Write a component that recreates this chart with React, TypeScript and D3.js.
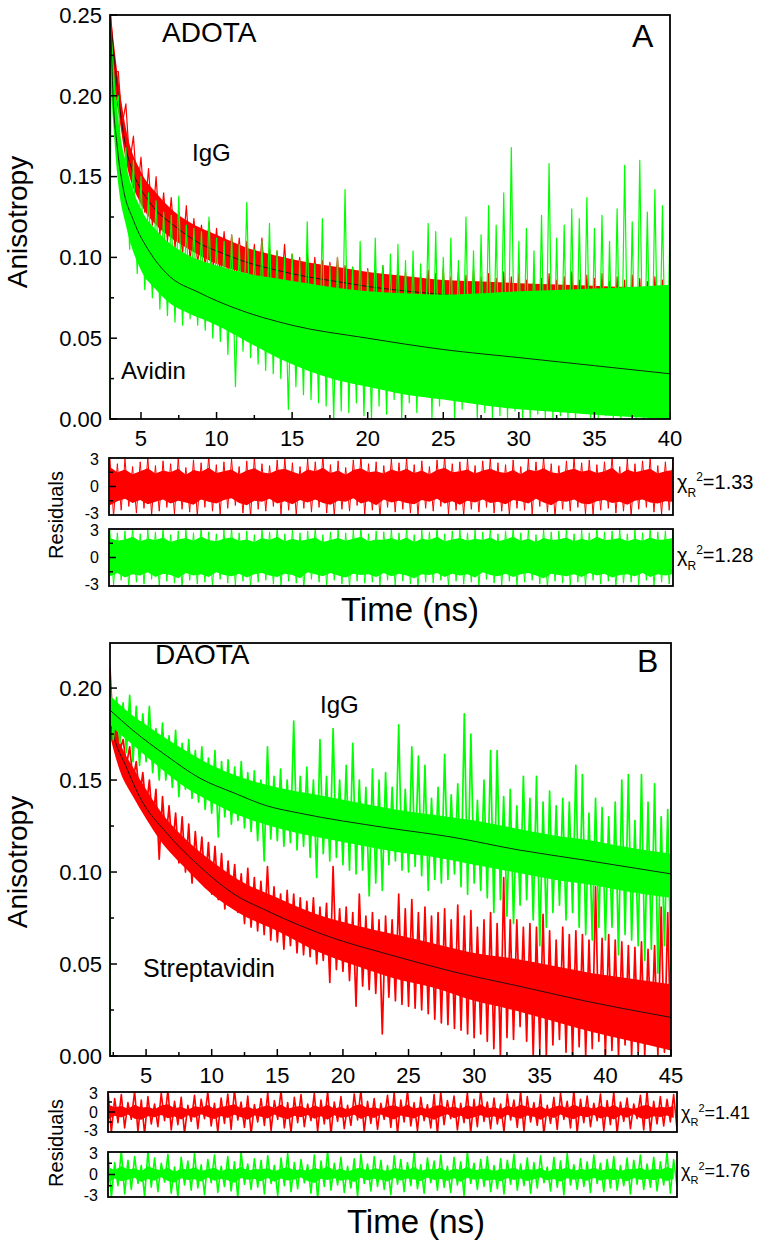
import React from "react";
import * as d3 from "d3";

const FONT = "'Liberation Sans', Arial, Helvetica, sans-serif";
const RED = "#ff0000";
const GREEN = "#00ff00";

// ---------- panel A (ADOTA) ----------
const domainA: [number, number] = [2.95, 40];
const startA = 3; // first sample time of the hi/lo arrays (ns)
const stepA = 0.5;

const avidinHiA = [
  0.245, 0.2, 0.168, 0.16, 0.15, 0.14, 0.135, 0.128, 0.126, 0.138,
  0.12, 0.118, 0.116, 0.125, 0.112, 0.11, 0.114, 0.108, 0.134, 0.105,
  0.11, 0.121, 0.104, 0.1, 0.102, 0.098, 0.122, 0.096, 0.124, 0.095,
  0.1, 0.142, 0.094, 0.11, 0.092, 0.112, 0.095, 0.102, 0.108, 0.098,
  0.104, 0.096, 0.121, 0.116, 0.1, 0.112, 0.098, 0.125, 0.104, 0.114,
  0.132, 0.12, 0.14, 0.168, 0.11, 0.118, 0.104, 0.126, 0.158, 0.112,
  0.12, 0.13, 0.124, 0.137, 0.118, 0.126, 0.11, 0.13, 0.157, 0.122,
  0.16, 0.128, 0.142, 0.132, 0.12,
];
const avidinLoA = [
  0.19, 0.135, 0.105, 0.09, 0.08, 0.075, 0.068, 0.064, 0.06, 0.058,
  0.062, 0.058, 0.055, 0.05, 0.048, 0.04, 0.02, 0.042, 0.038, 0.034,
  0.03, 0.028, 0.025, 0.006, 0.02, 0.015, 0.012, 0.01, 0.008, 0.0,
  0.005, 0.004, 0.01, 0.002, 0.0, 0.008, 0.003, 0.012, 0.0, 0.01,
  0.004, 0.015, 0.0, 0.008, 0.012, 0.0, 0.006, 0.01, 0.0, 0.004,
  0.0, 0.002, 0.0, 0.005, 0.0, 0.0, 0.003, 0.0, 0.0, 0.002,
  0.0, 0.0, 0.004, 0.0, 0.0, 0.002, 0.0, 0.0, 0.003, 0.0,
  0.0, 0.0, 0.002, 0.0, 0.0,
];
const iggHiA = [
  0.25, 0.215, 0.195, 0.175, 0.162, 0.155, 0.15, 0.14, 0.137, 0.128,
  0.132, 0.124, 0.12, 0.122, 0.118, 0.116, 0.114, 0.112, 0.11, 0.108,
  0.112, 0.106, 0.104, 0.108, 0.102, 0.1, 0.104, 0.1, 0.098, 0.097,
  0.1, 0.095, 0.094, 0.097, 0.093, 0.092, 0.095, 0.09, 0.093, 0.091,
  0.094, 0.089, 0.092, 0.09, 0.093, 0.088, 0.091, 0.089, 0.092, 0.088,
  0.09, 0.087, 0.091, 0.088, 0.09, 0.086, 0.089, 0.087, 0.09, 0.086,
  0.088, 0.091, 0.086, 0.089, 0.087, 0.09, 0.085, 0.088, 0.086, 0.089,
  0.087, 0.085, 0.088, 0.086, 0.087,
];
const iggLoA = [
  0.215, 0.182, 0.158, 0.14, 0.128, 0.12, 0.114, 0.11, 0.106, 0.102,
  0.098, 0.096, 0.094, 0.09, 0.088, 0.086, 0.084, 0.083, 0.081, 0.08,
  0.078, 0.077, 0.075, 0.074, 0.072, 0.071, 0.07, 0.068, 0.067, 0.066,
  0.065, 0.064, 0.062, 0.061, 0.06, 0.058, 0.06, 0.057, 0.056, 0.058,
  0.055, 0.054, 0.056, 0.053, 0.052, 0.054, 0.051, 0.05, 0.052, 0.049,
  0.05, 0.048, 0.05, 0.047, 0.049, 0.046, 0.048, 0.045, 0.047, 0.046,
  0.044, 0.046, 0.043, 0.045, 0.044, 0.042, 0.044, 0.043, 0.033, 0.041,
  0.042, 0.04, 0.043, 0.041, 0.04,
];

// dense part of each band
const coreTimesA = [3, 3.5, 4, 5, 6, 7, 8, 10, 12, 14, 16, 18, 20, 22, 25, 28, 30, 33, 36, 40];
const avidinCoreHiA = [0.245, 0.185, 0.158, 0.13, 0.117, 0.108, 0.102, 0.095, 0.09, 0.087, 0.084, 0.081, 0.079, 0.078, 0.077, 0.078, 0.079, 0.08, 0.081, 0.083];
const avidinCoreLoA = [0.205, 0.145, 0.12, 0.092, 0.08, 0.071, 0.066, 0.058, 0.048, 0.038, 0.03, 0.024, 0.02, 0.016, 0.012, 0.008, 0.006, 0.004, 0.002, 0.0];
const iggCoreHiA = [0.25, 0.21, 0.18, 0.153, 0.14, 0.13, 0.123, 0.114, 0.106, 0.101, 0.097, 0.094, 0.091, 0.089, 0.086, 0.085, 0.084, 0.083, 0.082, 0.081];
const iggCoreLoA = [0.215, 0.19, 0.16, 0.133, 0.12, 0.112, 0.106, 0.096, 0.09, 0.085, 0.08, 0.076, 0.073, 0.07, 0.067, 0.064, 0.062, 0.06, 0.058, 0.056];

const avidinFitTA = [3, 3.15, 3.4, 3.8, 4.5, 5.6, 6.7, 8.9, 11.1, 15, 20, 25, 30, 35, 40];
const avidinFitA = [0.245, 0.2, 0.171, 0.144, 0.123, 0.103, 0.09, 0.078, 0.069, 0.058, 0.05, 0.043, 0.038, 0.033, 0.028];
const iggFitTA = [3, 3.25, 3.5, 3.75, 4, 4.5, 5, 5.5, 6, 7, 8, 9, 10, 12, 14, 16, 18, 20, 25, 30, 35, 40];
const iggFitA = [0.245, 0.222, 0.2, 0.182, 0.168, 0.152, 0.142, 0.135, 0.129, 0.121, 0.114, 0.108, 0.104, 0.097, 0.092, 0.088, 0.085, 0.082, 0.077, 0.073, 0.07, 0.067];

const resIggHiA = [3.3, 2.4, 2.9, 2.1, 2.6, 3.1, 2.2, 2.7, 2.4, 3.0, 2.0, 2.8, 2.5, 3.2, 2.3, 2.6, 2.9, 2.1, 2.7, 3.1, 2.4, 2.2, 2.8, 3.0, 2.5, 2.1, 2.9, 2.6, 3.2, 2.3, 2.7, 2.0, 2.8, 3.1, 2.4, 2.6, 2.2, 2.9, 2.5, 3.0, 2.3, 2.7, 2.1, 2.8, 3.2, 2.4, 2.6, 2.9, 2.2, 2.7, 3.0, 2.5, 2.3, 2.8, 2.1, 2.9, 2.6, 3.1, 2.4, 2.2, 2.7, 3.0, 2.5, 2.8, 2.3, 2.6, 3.2, 2.1, 2.9, 2.4, 2.7, 3.0, 2.2, 2.6, 2.8];
const resIggLoA = [-3.2, -2.5, -2.1, -2.8, -2.3, -3.0, -2.6, -2.2, -2.9, -2.4, -2.7, -3.1, -2.2, -2.6, -2.9, -2.3, -2.0, -2.8, -3.2, -2.4, -2.6, -2.1, -2.9, -2.5, -3.0, -2.3, -2.7, -2.2, -2.8, -3.1, -2.4, -2.6, -2.0, -2.9, -2.5, -3.2, -2.2, -2.7, -2.4, -2.8, -3.0, -2.3, -2.6, -2.1, -2.9, -2.5, -3.1, -2.4, -2.7, -2.2, -2.8, -2.6, -3.0, -2.3, -2.5, -2.9, -2.1, -2.7, -3.2, -2.4, -2.6, -2.2, -2.9, -3.0, -2.5, -2.3, -2.8, -2.6, -3.1, -2.4, -2.2, -2.7, -2.9, -2.5, -2.6];
const resAvidinHiA = [3.0, 2.6, 2.8, 3.2, 2.5, 2.9, 2.7, 3.1, 2.4, 2.8, 3.0, 2.6, 3.2, 2.7, 2.5, 2.9, 3.1, 2.6, 2.8, 2.4, 3.0, 2.7, 3.2, 2.5, 2.9, 2.6, 2.8, 3.1, 2.4, 2.7, 3.0, 2.6, 2.9, 3.2, 2.5, 2.8, 2.7, 3.0, 2.6, 3.1, 2.4, 2.9, 2.7, 3.2, 2.5, 2.8, 3.0, 2.6, 2.9, 2.7, 3.1, 2.5, 2.8, 3.2, 2.6, 2.9, 2.4, 3.0, 2.7, 2.8, 3.1, 2.5, 2.9, 2.6, 3.2, 2.7, 2.8, 3.0, 2.5, 2.9, 2.6, 3.1, 2.7, 2.8, 3.0];
const resAvidinLoA = [-2.9, -2.4, -3.1, -2.6, -2.8, -2.3, -3.0, -2.5, -2.7, -3.2, -2.4, -2.8, -2.6, -3.0, -2.3, -2.7, -2.9, -2.5, -3.1, -2.6, -2.4, -2.8, -3.0, -2.5, -2.7, -3.2, -2.3, -2.6, -2.9, -2.4, -2.8, -3.1, -2.5, -2.7, -2.6, -3.0, -2.4, -2.9, -2.5, -2.8, -3.2, -2.6, -2.7, -2.4, -3.0, -2.5, -2.8, -2.6, -3.1, -2.3, -2.7, -2.9, -2.5, -3.0, -2.6, -2.4, -2.8, -3.2, -2.5, -2.7, -2.9, -2.6, -3.0, -2.4, -2.8, -2.5, -3.1, -2.7, -2.6, -2.9, -2.4, -3.0, -2.6, -2.8, -2.5];

// ---------- panel B (DAOTA) ----------
const domainB: [number, number] = [2.25, 45];
const startB = 2.25;
const stepB = 0.5;

const iggHiB = [
  0.204, 0.195, 0.192, 0.196, 0.19, 0.186, 0.19, 0.178, 0.181, 0.174,
  0.177, 0.17, 0.172, 0.166, 0.168, 0.162, 0.166, 0.16, 0.161, 0.157,
  0.16, 0.154, 0.155, 0.15, 0.168, 0.152, 0.156, 0.15, 0.182, 0.152,
  0.157, 0.15, 0.172, 0.152, 0.178, 0.15, 0.158, 0.17, 0.15, 0.146,
  0.156, 0.15, 0.154, 0.146, 0.18, 0.145, 0.168, 0.163, 0.158, 0.14,
  0.146, 0.164, 0.142, 0.148, 0.186, 0.175, 0.139, 0.15, 0.166, 0.166,
  0.141, 0.145, 0.136, 0.152, 0.14, 0.152, 0.138, 0.144, 0.136, 0.14,
  0.138, 0.158, 0.153, 0.132, 0.14, 0.135, 0.13, 0.138, 0.15, 0.153,
  0.128, 0.153, 0.138, 0.148, 0.13, 0.134,
];
const iggLoB = [
  0.172, 0.17, 0.165, 0.16, 0.158, 0.16, 0.154, 0.15, 0.15, 0.146,
  0.141, 0.145, 0.14, 0.138, 0.134, 0.132, 0.119, 0.13, 0.126, 0.128,
  0.124, 0.122, 0.117, 0.106, 0.118, 0.117, 0.114, 0.116, 0.112, 0.114,
  0.108, 0.097, 0.11, 0.106, 0.108, 0.104, 0.101, 0.099, 0.101, 0.087,
  0.094, 0.09, 0.104, 0.106, 0.101, 0.1, 0.103, 0.098, 0.09, 0.096,
  0.094, 0.096, 0.099, 0.092, 0.088, 0.094, 0.09, 0.086, 0.078, 0.085,
  0.076, 0.072, 0.082, 0.085, 0.074, 0.06, 0.07, 0.078, 0.082, 0.074,
  0.078, 0.07, 0.066, 0.063, 0.07, 0.063, 0.07, 0.055, 0.066, 0.063,
  0.06, 0.052, 0.058, 0.045, 0.06, 0.045,
];
const strepHiB = [
  0.211, 0.179, 0.172, 0.168, 0.16, 0.154, 0.15, 0.145, 0.141, 0.136,
  0.132, 0.13, 0.126, 0.122, 0.119, 0.116, 0.114, 0.11, 0.106, 0.104,
  0.099, 0.102, 0.097, 0.095, 0.103, 0.092, 0.088, 0.09, 0.088, 0.086,
  0.084, 0.086, 0.081, 0.083, 0.103, 0.08, 0.081, 0.078, 0.088, 0.076,
  0.078, 0.074, 0.076, 0.074, 0.088, 0.08, 0.085, 0.078, 0.081, 0.076,
  0.078, 0.08, 0.074, 0.082, 0.076, 0.079, 0.07, 0.074, 0.078, 0.072,
  0.097, 0.074, 0.074, 0.07, 0.072, 0.07, 0.077, 0.068, 0.063, 0.07,
  0.066, 0.068, 0.066, 0.063, 0.092, 0.064, 0.066, 0.063, 0.062, 0.06,
  0.059, 0.062, 0.058, 0.06, 0.081, 0.078,
];
const strepLoB = [
  0.175, 0.166, 0.158, 0.15, 0.14, 0.134, 0.126, 0.107, 0.116, 0.112,
  0.105, 0.1, 0.094, 0.098, 0.092, 0.088, 0.085, 0.08, 0.082, 0.078,
  0.072, 0.07, 0.068, 0.066, 0.063, 0.062, 0.058, 0.06, 0.056, 0.055,
  0.054, 0.05, 0.052, 0.04, 0.047, 0.046, 0.041, 0.027, 0.038, 0.036,
  0.034, 0.012, 0.032, 0.03, 0.028, 0.027, 0.026, 0.025, 0.023, 0.02,
  0.018, 0.017, 0.015, 0.014, 0.012, 0.01, 0.012, 0.008, 0.004, 0.0,
  0.01, 0.009, 0.016, 0.008, 0.0, 0.004, 0.0, 0.006, 0.009, 0.002,
  0.0, 0.005, 0.0, 0.004, 0.008, 0.0, 0.003, 0.0, 0.006, 0.0,
  0.002, 0.0, 0.008, 0.0, 0.002, 0.0,
];

const coreTimesB = [2.25, 3, 4, 5, 6, 8, 10, 12, 15, 18, 21, 24, 27, 30, 33, 36, 39, 42, 45];
const iggCoreHiB = [0.196, 0.191, 0.185, 0.18, 0.175, 0.166, 0.158, 0.152, 0.146, 0.142, 0.138, 0.134, 0.131, 0.128, 0.124, 0.12, 0.117, 0.113, 0.11];
const iggCoreLoB = [0.18, 0.175, 0.169, 0.163, 0.157, 0.146, 0.138, 0.131, 0.124, 0.119, 0.115, 0.111, 0.108, 0.104, 0.1, 0.096, 0.093, 0.089, 0.086];
const strepCoreHiB = [0.192, 0.171, 0.157, 0.145, 0.134, 0.118, 0.106, 0.096, 0.086, 0.077, 0.071, 0.066, 0.061, 0.056, 0.053, 0.049, 0.045, 0.042, 0.039];
const strepCoreLoB = [0.174, 0.155, 0.141, 0.129, 0.118, 0.102, 0.088, 0.078, 0.068, 0.057, 0.049, 0.042, 0.037, 0.03, 0.025, 0.019, 0.013, 0.008, 0.003];

const iggFitTB = [2.25, 4.0, 6.6, 9.1, 11.7, 14.2, 16.7, 23.4, 28.3, 33.4, 38.4, 45];
const iggFitB = [0.188, 0.177, 0.163, 0.151, 0.143, 0.136, 0.132, 0.124, 0.119, 0.112, 0.1065, 0.099];
const strepFitTB = [2.25, 2.5, 3.5, 4.5, 6.6, 9.1, 11.7, 14.2, 16.7, 19.3, 23.6, 28.3, 33.4, 38.4, 45];
const strepFitB = [0.183, 0.175, 0.157, 0.141, 0.121, 0.103, 0.088, 0.079, 0.071, 0.064, 0.055, 0.046, 0.038, 0.03, 0.021];

const resStrepHiB = [3.2, 2.0, 2.6, 1.4, 3.1, 1.8, 2.3, 1.2, 2.8, 3.3, 1.6, 2.2, 1.0, 2.5, 1.9, 3.0, 1.3, 2.1, 2.7, 3.3, 1.5, 2.4, 1.1, 2.0, 2.9, 1.7, 3.2, 1.4, 2.2, 2.6, 1.2, 2.8, 1.8, 3.1, 1.5, 2.3, 1.0, 2.7, 3.3, 1.6, 2.0, 1.3, 2.5, 2.9, 1.8, 3.2, 1.4, 2.2, 1.1, 2.6, 3.0, 1.7, 2.4, 1.3, 2.9, 1.9, 3.3, 1.5, 2.1, 1.2, 2.7, 1.8, 3.1, 2.3, 1.4, 2.6, 1.0, 2.2, 2.8, 1.6, 3.2, 1.9, 2.4, 1.3, 2.7, 1.7, 3.0, 1.5, 2.1, 1.2, 2.5, 3.1, 1.6, 2.3, 1.9, 2.6];
const resStrepLoB = [-3.1, -1.6, -2.4, -1.1, -2.9, -3.3, -1.8, -2.2, -1.3, -2.7, -1.9, -3.2, -1.4, -2.5, -1.0, -2.1, -3.0, -1.7, -2.6, -1.2, -2.3, -3.3, -1.5, -2.0, -2.8, -1.1, -2.4, -3.1, -1.6, -2.2, -1.3, -2.9, -1.8, -3.3, -1.4, -2.5, -2.0, -1.2, -3.0, -1.7, -2.6, -1.1, -2.3, -3.2, -1.5, -2.1, -2.8, -1.3, -2.4, -3.3, -1.9, -1.0, -2.7, -1.6, -3.1, -2.2, -1.4, -2.5, -1.8, -3.0, -1.2, -2.3, -2.9, -1.5, -2.0, -3.3, -1.7, -2.6, -1.1, -2.4, -3.1, -1.6, -2.2, -1.3, -2.8, -1.9, -3.2, -1.4, -2.5, -1.0, -2.7, -3.0, -1.8, -2.1, -1.5, -2.6];
const resIggHiB = [2.9, 1.6, 3.2, 1.9, 2.4, 1.2, 3.1, 2.2, 1.5, 2.7, 1.0, 2.3, 1.8, 2.8, 1.3, 2.0, 2.6, 1.1, 2.4, 1.7, 3.0, 1.4, 2.1, 1.9, 2.5, 1.2, 2.2, 2.8, 1.6, 2.0, 1.3, 2.6, 1.8, 3.1, 1.5, 2.3, 1.1, 2.1, 2.7, 1.4, 2.4, 1.9, 1.2, 2.5, 2.0, 1.6, 2.9, 1.3, 2.2, 1.8, 2.6, 1.1, 2.3, 1.7, 3.0, 1.5, 2.0, 2.4, 1.2, 2.1, 1.9, 2.7, 1.4, 2.2, 1.6, 2.5, 1.0, 2.3, 1.8, 2.8, 1.3, 2.1, 1.7, 2.6, 1.5, 2.0, 2.4, 1.2, 2.2, 1.9, 2.6, 1.4, 2.3, 1.7, 2.9, 2.0];
const resIggLoB = [-3.1, -1.5, -2.6, -2.0, -1.2, -2.9, -1.7, -2.3, -1.0, -2.5, -3.0, -1.4, -2.1, -1.8, -2.7, -1.1, -2.4, -1.6, -2.2, -3.1, -1.3, -2.0, -1.7, -2.6, -1.2, -2.8, -1.5, -2.3, -1.9, -1.1, -2.5, -3.2, -1.6, -2.1, -1.4, -2.4, -1.8, -2.9, -1.2, -2.2, -1.6, -2.0, -2.7, -1.3, -2.3, -1.5, -1.9, -2.5, -1.1, -2.1, -1.7, -2.4, -1.4, -2.8, -1.2, -2.0, -1.6, -2.3, -1.9, -2.6, -1.3, -2.1, -1.5, -2.5, -1.8, -1.1, -2.2, -1.7, -2.7, -1.4, -2.0, -1.6, -2.4, -1.2, -2.3, -1.8, -2.1, -1.5, -2.6, -1.3, -2.0, -1.7, -2.2, -1.4, -2.5, -1.6];

type Pt = [number, number];

// noisy trace: alternate between upper and lower readings, half a step apart
function zigzag(start: number, step: number, hi: number[], lo: number[], rise?: number): Pt[] {
  const pts: Pt[] = [];
  if (rise !== undefined) pts.push([rise, 0]);
  hi.forEach((h, i) => {
    const t = start + i * step;
    pts.push([t, h]);
    pts.push([t + step / 2, lo[i]]);
  });
  return pts;
}

const zip = (a: number[], b: number[]): Pt[] => a.map((v, i) => [v, b[i]]);

interface Trace {
  color: string;
  hi: number[];
  lo: number[];
  start: number;
  step: number;
  coreT: number[];
  coreHi: number[];
  coreLo: number[];
  fitT: number[];
  fit: number[];
  width: number;
  rise?: number;
}

function MainPanel(props: {
  id: string;
  left: number; right: number; top: number; bottom: number;
  xDom: [number, number]; yDom: [number, number];
  xMajor: number[]; xMinor: number[]; yMajor: number[]; yMinor: number[];
  traces: Trace[];
}) {
  const { id, left, right, top, bottom, xDom, yDom, xMajor, xMinor, yMajor, yMinor, traces } = props;
  const x = d3.scaleLinear().domain(xDom).range([left, right]);
  const y = d3.scaleLinear().domain(yDom).range([bottom, top]);
  const line = d3.line<Pt>().x(d => x(d[0])).y(d => y(d[1]));
  const fitLine = d3.line<Pt>().x(d => x(d[0])).y(d => y(d[1])).curve(d3.curveMonotoneX);
  const fmt = d3.format(".2f");
  return (
    <g>
      <defs>
        <clipPath id={id}>
          <rect x={left} y={top} width={right - left} height={bottom - top} />
        </clipPath>
      </defs>
      <g clipPath={`url(#${id})`}>
        {traces.map((tr, k) => {
          const core = d3.area<number>()
            .curve(d3.curveMonotoneX)
            .x((_, i) => x(tr.coreT[i]))
            .y0((_, i) => y(tr.coreLo[i]))
            .y1((_, i) => y(tr.coreHi[i]))(tr.coreT);
          return (
            <g key={k}>
              <path d={core || ""} fill={tr.color} />
              <path d={line(zigzag(tr.start, tr.step, tr.hi, tr.lo, tr.rise)) || ""} fill="none"
                stroke={tr.color} strokeWidth={tr.width} strokeLinejoin="round" />
              <path d={fitLine(zip(tr.fitT, tr.fit)) || ""} fill="none" stroke="#111" strokeWidth={0.9} />
            </g>
          );
        })}
      </g>
      {xMajor.map(t => (
        <line key={"xM" + t} x1={x(t)} x2={x(t)} y1={bottom} y2={bottom - 7} stroke="#000" strokeWidth={1.5} />
      ))}
      {xMinor.map(t => (
        <line key={"xm" + t} x1={x(t)} x2={x(t)} y1={bottom} y2={bottom - 4} stroke="#000" strokeWidth={1.5} />
      ))}
      {yMajor.map(v => (
        <line key={"yM" + v} x1={left} x2={left + 7} y1={y(v)} y2={y(v)} stroke="#000" strokeWidth={1.5} />
      ))}
      {yMinor.map(v => (
        <line key={"ym" + v} x1={left} x2={left + 4} y1={y(v)} y2={y(v)} stroke="#000" strokeWidth={1.5} />
      ))}
      <rect x={left} y={top} width={right - left} height={bottom - top} fill="none" stroke="#000" strokeWidth={1.8} />
      {xMajor.map(t => (
        <text key={"xl" + t} x={x(t)} y={bottom + 27} textAnchor="middle" fontSize={22} fontFamily={FONT}>{t}</text>
      ))}
      {yMajor.map(v => (
        <text key={"yl" + v} x={left - 8} y={y(v)} dy="0.35em" textAnchor="end" fontSize={22} fontFamily={FONT}>{fmt(v)}</text>
      ))}
    </g>
  );
}

function ResidualPanel(props: {
  id: string;
  left: number; right: number; top: number; bottom: number;
  xDom: [number, number];
  color: string; start: number; step: number; hi: number[]; lo: number[];
  dense: number; width: number;
}) {
  const { id, left, right, top, bottom, xDom, color, start, step, hi, lo, dense, width } = props;
  const x = d3.scaleLinear().domain(xDom).range([left, right]);
  const y = d3.scaleLinear().domain([-3, 3]).range([bottom, top]);
  const line = d3.line<Pt>().x(d => x(d[0])).y(d => y(d[1]));
  const core = d3.area<number>()
    .x((_, i) => x(start + i * step))
    .y0((_, i) => y(lo[i] * dense))
    .y1((_, i) => y(hi[i] * dense))(hi);
  return (
    <g>
      <defs>
        <clipPath id={id}>
          <rect x={left} y={top} width={right - left} height={bottom - top} />
        </clipPath>
      </defs>
      <g clipPath={`url(#${id})`}>
        <path d={core || ""} fill={color} />
        <path d={line(zigzag(start, step, hi, lo)) || ""} fill="none" stroke={color} strokeWidth={width} strokeLinejoin="round" />
      </g>
      <line x1={left} x2={left + 7} y1={y(0)} y2={y(0)} stroke="#000" strokeWidth={1.5} />
      {[-1.5, 1.5].map(v => (
        <line key={v} x1={left} x2={left + 4} y1={y(v)} y2={y(v)} stroke="#000" strokeWidth={1.5} />
      ))}
      <rect x={left} y={top} width={right - left} height={bottom - top} fill="none" stroke="#000" strokeWidth={1.8} />
      {[3, 0, -3].map(v => (
        <text key={v} x={left - 10} y={y(v) + (v === -3 ? -2 : v === 3 ? 1 : 0)} dy="0.35em" textAnchor="end"
          fontSize={16} fontFamily={FONT}>{v}</text>
      ))}
    </g>
  );
}

function Chi({ x, y, value, size }: { x: number; y: number; value: string; size: number }) {
  const small = Math.round(size * 0.62);
  return (
    <text x={x} y={y} fontSize={size} fontFamily={FONT}>
      <tspan>χ</tspan>
      <tspan fontSize={small} dy={size * 0.4}>R</tspan>
      <tspan fontSize={small} dy={-size * 0.8}>2</tspan>
      <tspan dy={size * 0.4}>{value}</tspan>
    </text>
  );
}

export default function App() {
  const tracesA: Trace[] = [
    { color: RED, hi: iggHiA, lo: iggLoA, start: startA, step: stepA, coreT: coreTimesA, coreHi: iggCoreHiA, coreLo: iggCoreLoA, fitT: iggFitTA, fit: iggFitA, width: 1.2, rise: domainA[0] },
    { color: GREEN, hi: avidinHiA, lo: avidinLoA, start: startA, step: stepA, coreT: coreTimesA, coreHi: avidinCoreHiA, coreLo: avidinCoreLoA, fitT: avidinFitTA, fit: avidinFitA, width: 1.2, rise: domainA[0] },
  ];
  const tracesB: Trace[] = [
    { color: RED, hi: strepHiB, lo: strepLoB, start: startB, step: stepB, coreT: coreTimesB, coreHi: strepCoreHiB, coreLo: strepCoreLoB, fitT: strepFitTB, fit: strepFitB, width: 1.7, rise: domainB[0] },
    { color: GREEN, hi: iggHiB, lo: iggLoB, start: startB, step: stepB, coreT: coreTimesB, coreHi: iggCoreHiB, coreLo: iggCoreLoB, fitT: iggFitTB, fit: iggFitB, width: 1.7, rise: domainB[0] },
  ];
  const txt = { fontFamily: FONT, fill: "#000" };
  return (
    <svg width={760} height={1247} style={{ position: "absolute", left: 0, top: 0, background: "#fff" }}>
      <rect width={760} height={1247} fill="#fff" />
      {/* ---- A ---- */}
      <MainPanel id="clipA" left={110} right={670} top={15} bottom={419}
        xDom={domainA} yDom={[0, 0.25]}
        xMajor={[5, 10, 15, 20, 25, 30, 35, 40]} xMinor={[7.5, 12.5, 17.5, 22.5, 27.5, 32.5, 37.5]}
        yMajor={[0, 0.05, 0.1, 0.15, 0.2, 0.25]} yMinor={[0.025, 0.075, 0.125, 0.175, 0.225]}
        traces={tracesA} />
      <text x={162} y={42} fontSize={28} {...txt}>ADOTA</text>
      <text x={192} y={161} fontSize={24} {...txt}>IgG</text>
      <text x={632} y={47} fontSize={32} {...txt}>A</text>
      <text x={121} y={379} fontSize={24} {...txt}>Avidin</text>
      <text transform="translate(27,222) rotate(-90)" textAnchor="middle" fontSize={28} {...txt}>Anisotropy</text>

      <ResidualPanel id="clipRA1" left={109} right={673} top={458} bottom={515} xDom={domainA}
        color={RED} start={startA} step={stepA} hi={resIggHiA} lo={resIggLoA} dense={0.62} width={1} />
      <ResidualPanel id="clipRA2" left={109} right={673} top={529} bottom={586} xDom={domainA}
        color={GREEN} start={startA} step={stepA} hi={resAvidinHiA} lo={resAvidinLoA} dense={0.68} width={1} />
      <Chi x={677} y={489} value="=1.33" size={20} />
      <Chi x={677} y={562} value="=1.28" size={20} />
      <text transform="translate(63,515) rotate(-90)" textAnchor="middle" fontSize={20} {...txt}>Residuals</text>
      <text x={410} y={621} textAnchor="middle" fontSize={33} {...txt}>Time (ns)</text>

      {/* ---- B ---- */}
      <MainPanel id="clipB" left={110} right={671} top={643} bottom={1056}
        xDom={domainB} yDom={[0, 0.2245]}
        xMajor={[5, 10, 15, 20, 25, 30, 35, 40, 45]} xMinor={[2.5, 7.5, 12.5, 17.5, 22.5, 27.5, 32.5, 37.5, 42.5]}
        yMajor={[0, 0.05, 0.1, 0.15, 0.2]} yMinor={[0.025, 0.075, 0.125, 0.175]}
        traces={tracesB} />
      <text x={155} y={664} fontSize={28} {...txt}>DAOTA</text>
      <text x={320} y={713} fontSize={24} {...txt}>IgG</text>
      <text x={637} y={672} fontSize={32} {...txt}>B</text>
      <text x={143} y={977} fontSize={25} {...txt}>Streptavidin</text>
      <text transform="translate(27,862) rotate(-90)" textAnchor="middle" fontSize={28} {...txt}>Anisotropy</text>

      <ResidualPanel id="clipRB1" left={108} right={677} top={1092} bottom={1132} xDom={domainB}
        color={RED} start={startB} step={stepB} hi={resStrepHiB} lo={resStrepLoB} dense={0.35} width={1.6} />
      <ResidualPanel id="clipRB2" left={108} right={677} top={1152} bottom={1197} xDom={domainB}
        color={GREEN} start={startB} step={stepB} hi={resIggHiB} lo={resIggLoB} dense={0.35} width={1.6} />
      <Chi x={681} y={1119} value="=1.41" size={18} />
      <Chi x={681} y={1177} value="=1.76" size={18} />
      <text transform="translate(63,1143) rotate(-90)" textAnchor="middle" fontSize={20} {...txt}>Residuals</text>
      <text x={416} y={1233} textAnchor="middle" fontSize={33} {...txt}>Time (ns)</text>
    </svg>
  );
}
